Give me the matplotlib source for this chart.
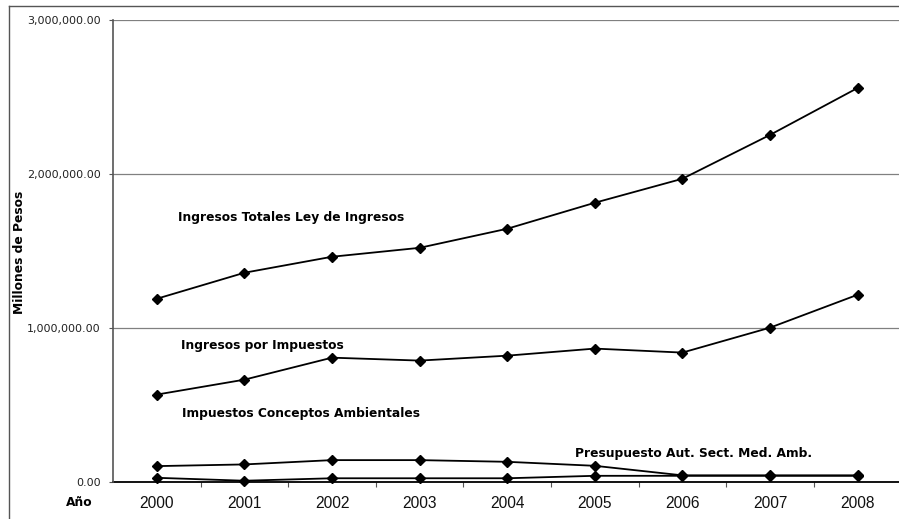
import matplotlib
matplotlib.use("Agg")
import matplotlib.pyplot as plt
from matplotlib.lines import Line2D
from matplotlib.ticker import FixedLocator, FuncFormatter, NullFormatter

# Data (millones de pesos)
years = ["2000", "2001", "2002", "2003", "2004", "2005", "2006", "2007", "2008"]
ingresos_totales = [1188000, 1357000, 1461000, 1519000, 1643000, 1812000, 1968000, 2253000, 2558000]
ingresos_impuestos = [565000, 662000, 805000, 786000, 818000, 864000, 838000, 1000000, 1214000]
impuestos_ambientales = [100000, 111000, 139000, 139000, 128000, 102000, 40000, 40000, 40000]
presupuesto_med_amb = [24000, 5000, 21000, 21000, 21000, 37000, 37000, 37000, 37000]

series = [ingresos_totales, ingresos_impuestos, impuestos_ambientales, presupuesto_med_amb]

W, H = 899, 519
fig = plt.figure(figsize=(W / 100, H / 100), dpi=100)
fig.patch.set_facecolor("white")

def fx(px):
    return px / W

def fy(py):
    return 1 - py / H

# Plot area
left, right, top, bottom = 113, 899, 20, 481.5
ax = fig.add_axes([fx(left), fy(bottom), fx(right - left), fy(top) - fy(bottom)])

band = 87.6
n = len(years)
x = list(range(n))
ax.set_xlim(-0.5, (right - left) / band - 0.5)
ax.set_ylim(0, 3000000)

for vals in series:
    ax.plot(x, vals, color="black", lw=1.3, marker="D", ms=5.4,
            mfc="black", mec="black", zorder=3, clip_on=False)

# Grid
ax.yaxis.set_major_locator(FixedLocator([0, 1000000, 2000000, 3000000]))
ax.yaxis.set_major_formatter(FuncFormatter(lambda v, p: f"{v:,.2f}"))
ax.grid(axis="y", color="#808080", lw=0.9, zorder=1)
ax.set_axisbelow(True)

# Category ticks: marks between categories, labels at the centers
ax.xaxis.set_major_locator(FixedLocator([i + 0.5 for i in range(n - 1)]))
ax.xaxis.set_major_formatter(NullFormatter())
ax.xaxis.set_minor_locator(FixedLocator(x))
ax.set_xticklabels(years, minor=True)
ax.tick_params(axis="x", which="major", direction="out", length=3.5, width=0.8, color="#555555")
ax.tick_params(axis="x", which="minor", length=0, pad=10.5,
               labelsize=11.2, labelcolor="#111111")
for lab in ax.get_xticklabels(minor=True):
    lab.set_fontfamily("Liberation Sans")

ax.tick_params(axis="y", direction="out", length=3, width=0.8, color="#555555",
               pad=6, labelsize=8, labelcolor="#222222")

for s in ["top", "right"]:
    ax.spines[s].set_visible(False)
ax.spines["left"].set_color("#555555")
ax.spines["left"].set_linewidth(1.2)
ax.spines["bottom"].set_color("black")
ax.spines["bottom"].set_linewidth(1.3)
ax.spines["bottom"].set_zorder(2)

# Axis titles
fig.text(fx(20), fy(252), "Millones de Pesos", rotation=90, ha="center", va="center",
         fontsize=8.8, fontweight="bold", family="DejaVu Sans")
fig.text(fx(66), fy(503), "Año", ha="left", va="center",
         fontsize=8.8, fontweight="bold", family="DejaVu Sans")

# Series labels
label_kw = dict(ha="left", va="center", fontsize=8.8, fontweight="bold", family="DejaVu Sans")
fig.text(fx(178), fy(217), "Ingresos Totales Ley de Ingresos", **label_kw)
fig.text(fx(181), fy(345), "Ingresos por Impuestos", **label_kw)
fig.text(fx(182), fy(413), "Impuestos Conceptos Ambientales", **label_kw)
fig.text(fx(575), fy(454), "Presupuesto Aut. Sect. Med. Amb.", **label_kw)

# Outer frame (left and top edges)
fig.add_artist(Line2D([fx(8.5), fx(8.5)], [fy(5.5), 0], transform=fig.transFigure,
                      color="#555555", lw=1.0))
fig.add_artist(Line2D([fx(8.5), 1], [fy(5.5), fy(5.5)], transform=fig.transFigure,
                      color="#555555", lw=1.0))

fig.savefig("out.png", dpi=100, facecolor="white")
